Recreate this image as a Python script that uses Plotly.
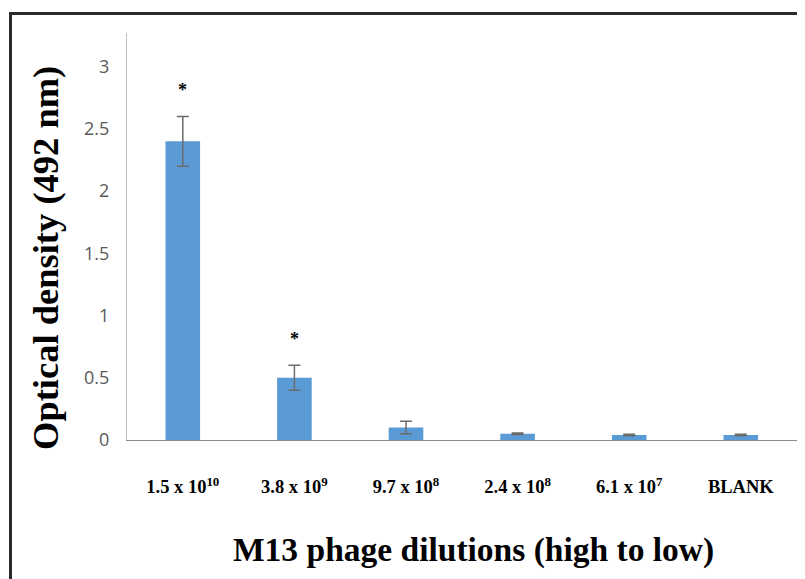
import plotly.graph_objects as go

categories = ["1.5 x 10<sup>10</sup>", "3.8 x 10<sup>9</sup>", "9.7 x 10<sup>8</sup>",
              "2.4 x 10<sup>8</sup>", "6.1 x 10<sup>7</sup>", "BLANK"]
od_values = [2.4, 0.5, 0.1, 0.05, 0.04, 0.04]
od_errors = [0.2, 0.1, 0.05, 0.006, 0.006, 0.006]
significant = [True, True, False, False, False, False]
y_ticks = [0, 0.5, 1, 1.5, 2, 2.5, 3]
y_tick_text = ["0", "0.5", "1", "1.5", "2", "2.5", "3"]

xpos = list(range(len(categories)))

W, H = 805, 579
OFF = 8  # page body margin
L, R, T, B = 127 - OFF, 0, 33 - OFF, H - (440 - OFF)
pw, ph = W - L - R, H - T - B

def px_x(x):
    return (x - OFF - L) / pw

def px_y(y):
    return (H - B - (y - OFF)) / ph

cat_px = 111.6
x_max = -0.5 + pw / cat_px

fig = go.Figure()
fig.add_trace(go.Bar(
    x=xpos, y=od_values,
    marker=dict(color="#5B9BD5", line=dict(width=0)),
    error_y=dict(type="data", array=od_errors, visible=True,
                 color="#6b6b6b", thickness=1.5, width=6),
    width=0.31,
))

for i, sig in enumerate(significant):
    if sig:
        fig.add_annotation(x=xpos[i], y=od_values[i] + od_errors[i], yref="y", xref="x",
                           text="<b>*</b>", showarrow=False, yshift=26,
                           font=dict(family="Liberation Serif", size=18, color="#000"))

fig.add_annotation(xref="paper", yref="paper", x=px_x(45), y=px_y(258),
                   text="<b>Optical density (492 nm)</b>", textangle=-90,
                   showarrow=False, xanchor="center", yanchor="middle",
                   font=dict(family="Liberation Serif", size=36.5, color="#000"))
fig.add_annotation(xref="paper", yref="paper", x=px_x(473), y=px_y(550),
                   text="<b>M13 phage dilutions (high to low)</b>",
                   showarrow=False, xanchor="center", yanchor="middle",
                   font=dict(family="Liberation Serif", size=33.5, color="#000"))

fig.update_layout(
    width=W, height=H,
    margin=dict(l=L, r=R, t=T, b=B),
    paper_bgcolor="white", plot_bgcolor="white",
    showlegend=False,
    bargap=0.69,
    xaxis=dict(range=[-0.5, x_max], tickvals=xpos,
               ticktext=["<b>" + c + "</b>" for c in categories],
               showline=True, linecolor="#8c8c8c", linewidth=1.2,
               ticks="", showgrid=False, zeroline=False, automargin=False,
               ticklabelstandoff=30,
               tickfont=dict(family="Liberation Serif", size=18.5, color="#000")),
    yaxis=dict(range=[0, 3.27], tickvals=y_ticks, ticktext=y_tick_text,
               showline=True, linecolor="#bfbfbf", linewidth=1.2,
               ticks="", showgrid=False, zeroline=False, automargin=False,
               ticklabelstandoff=13,
               tickfont=dict(family="Open Sans", size=18, color="#595959")),
)

# outer frame
fig.add_shape(type="rect", xref="paper", yref="paper",
              x0=px_x(10.5), x1=px_x(830), y0=px_y(620), y1=px_y(13.5),
              line=dict(color="#2a2a2a", width=3), fillcolor="rgba(0,0,0,0)")

fig.write_html("out.html")
